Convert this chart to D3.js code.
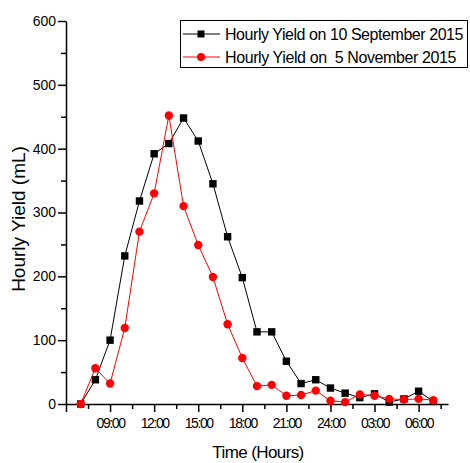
<!DOCTYPE html>
<html>
<head>
<meta charset="utf-8">
<style>
  body { margin: 0; background: #fff; }
  svg { font-family: "Liberation Sans", Arial, sans-serif; }
  .axis path, .axis line { stroke: #000; stroke-width: 1.5; }
  .axis text { font-size: 14px; fill: #000; }
  .xaxis text { letter-spacing: -1.4px; }
</style>
</head>
<body>
<script src="https://d3js.org/d3.v7.min.js"></script>
<script>
// hour of day (25+ = next morning)
var hours = [7, 8, 9, 10, 11, 12, 13, 14, 15, 16, 17, 18, 19, 20, 21, 22, 23, 24, 25, 26, 27, 28, 29, 30, 31];
var sepYield = [0, 38, 100, 232, 318, 392, 408, 448, 412, 345, 262, 198, 113, 113, 67, 32, 38, 25, 17, 10, 16, 3, 8, 20, 4];
var novYield = [0, 56, 32, 119, 270, 330, 452, 310, 249, 199, 125, 72, 28, 30, 13, 14, 21, 5, 3, 15, 13, 8, 7, 8, 6];
var seriesNames = ["Hourly Yield on 10 September 2015", "Hourly Yield on  5 November 2015"];
var xTickHours = [6, 9, 12, 15, 18, 21, 24, 27, 30];
var xTickLabels = ["", "09:00", "12:00", "15:00", "18:00", "21:00", "24:00", "03:00", "06:00"];
var yTicks = [0, 100, 200, 300, 400, 500, 600];

var W = 470, H = 463;
var margin = {left: 66, top: 21, right: 22, bottom: 59};

var svg = d3.select("body").append("svg")
    .attr("width", W)
    .attr("height", H);

var x = d3.scaleLinear().domain([6, 32]).range([margin.left, W - margin.right]);
var y = d3.scaleLinear().domain([0, 600]).range([H - margin.bottom, margin.top]);

var x0 = y(0);

// minor ticks first
svg.append("g")
    .attr("class", "axis")
    .attr("transform", "translate(0," + x0 + ")")
    .call(d3.axisBottom(x).tickValues(d3.range(7.5, 32, 3)).tickSize(5).tickFormat(""))
    .select(".domain").remove();
svg.append("g")
    .attr("class", "axis")
    .attr("transform", "translate(" + margin.left + ",0)")
    .call(d3.axisLeft(y).tickValues(d3.range(50, 600, 100)).tickSize(5).tickFormat(""))
    .select(".domain").remove();

// major axes
svg.append("g")
    .attr("class", "axis xaxis")
    .attr("transform", "translate(0," + x0 + ")")
    .call(d3.axisBottom(x).tickValues(xTickHours).tickSize(8).tickSizeOuter(0).tickPadding(6)
        .tickFormat(function(d, i) { return xTickLabels[i]; }));

svg.append("g")
    .attr("class", "axis")
    .attr("transform", "translate(" + margin.left + ",0)")
    .call(d3.axisLeft(y).tickValues(yTicks).tickSize(8).tickSizeOuter(0).tickPadding(2));

// axis titles
svg.append("text")
    .attr("x", (x(6) + x(32)) / 2 + 1)
    .attr("y", 458)
    .attr("text-anchor", "middle")
    .attr("font-size", 17)
    .attr("letter-spacing", "-0.6px")
    .text("Time (Hours)");

svg.append("text")
    .attr("transform", "translate(25," + 219 + ")rotate(-90)")
    .attr("text-anchor", "middle")
    .attr("font-size", 19)
    .text("Hourly Yield (mL)");

var line = d3.line()
    .x(function(d) { return x(d[0]); })
    .y(function(d) { return y(d[1]); });

var sepData = hours.map(function(h, i) { return [h, sepYield[i]]; });
var novData = hours.map(function(h, i) { return [h, novYield[i]]; });

// September series (black squares)
svg.append("path")
    .datum(sepData)
    .attr("d", line)
    .attr("fill", "none")
    .attr("stroke", "#000")
    .attr("stroke-width", 1);

svg.selectAll(".sq")
    .data(sepData)
    .enter().append("rect")
    .attr("class", "sq")
    .attr("x", function(d) { return x(d[0]) - 3.7; })
    .attr("y", function(d) { return y(d[1]) - 3.7; })
    .attr("width", 7.4)
    .attr("height", 7.4)
    .attr("fill", "#000");

// November series (red circles)
svg.append("path")
    .datum(novData)
    .attr("d", line)
    .attr("fill", "none")
    .attr("stroke", "#ff0000")
    .attr("stroke-width", 1);

svg.selectAll(".dot")
    .data(novData)
    .enter().append("circle")
    .attr("class", "dot")
    .attr("cx", function(d) { return x(d[0]); })
    .attr("cy", function(d) { return y(d[1]); })
    .attr("r", 4.2)
    .attr("fill", "#ff0000");

// legend
var legend = svg.append("g");
legend.append("rect")
    .attr("x", 180.5)
    .attr("y", 20.5)
    .attr("width", 287)
    .attr("height", 47)
    .attr("fill", "#fff")
    .attr("stroke", "#000")
    .attr("stroke-width", 1);

var rows = [
  {name: seriesNames[0], color: "#000", shape: "square", cy: 34, len: 238},
  {name: seriesNames[1], color: "#ff0000", shape: "circle", cy: 57, len: 231}
];
rows.forEach(function(r) {
  legend.append("line")
      .attr("x1", 183).attr("x2", 220)
      .attr("y1", r.cy).attr("y2", r.cy)
      .attr("stroke", r.color).attr("stroke-width", 1);
  if (r.shape === "square") {
    legend.append("rect")
        .attr("x", 197.5).attr("y", r.cy - 3.5)
        .attr("width", 7).attr("height", 7)
        .attr("fill", r.color);
  } else {
    legend.append("circle")
        .attr("cx", 201).attr("cy", r.cy).attr("r", 4)
        .attr("fill", r.color);
  }
  var t = legend.append("text")
      .attr("x", 225)
      .attr("y", r.cy + 6)
      .attr("font-size", 16)
      .style("white-space", "pre")
      .text(r.name);
  // squeeze the spacing so the label fits the box like the original
  var natural = t.node().getComputedTextLength();
  var n = r.name.length;
  t.style("letter-spacing", ((r.len - natural) / n) + "px");
});
</script>
</body>
</html>
